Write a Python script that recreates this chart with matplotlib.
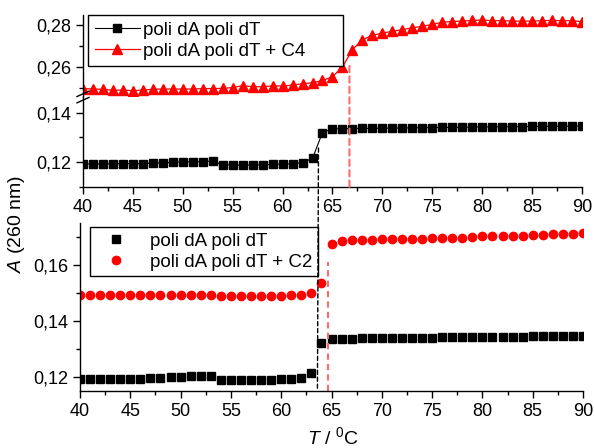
import numpy as np
import matplotlib
matplotlib.use("Agg")
import matplotlib.pyplot as plt
from matplotlib.ticker import MultipleLocator, FuncFormatter
from matplotlib.patches import ConnectionPatch

# ==========================================
# DATA
# ==========================================

temps = [40, 41, 42, 43, 44, 45, 46, 47, 48, 49,
         50, 51, 52, 53, 54, 55, 56, 57, 58, 59,
         60, 61, 62, 63, 64, 65, 66, 67, 68, 69,
         70, 71, 72, 73, 74, 75, 76, 77, 78, 79,
         80, 81, 82, 83, 84, 85, 86, 87, 88, 89, 90]

abs_dna = [0.1192, 0.1192, 0.1192, 0.1193, 0.1193, 0.1193, 0.1193, 0.1196, 0.1196, 0.1199,
           0.1200, 0.1201, 0.1201, 0.1204, 0.1188, 0.1188, 0.1187, 0.1188, 0.1188, 0.1190,
           0.1191, 0.1193, 0.1197, 0.1215, 0.1320, 0.1335, 0.1336, 0.1336, 0.1337, 0.1337,
           0.1338, 0.1338, 0.1339, 0.1339, 0.1340, 0.1340, 0.1341, 0.1341, 0.1342, 0.1342,
           0.1343, 0.1343, 0.1343, 0.1344, 0.1344, 0.1345, 0.1345, 0.1346, 0.1346, 0.1346, 0.1347]

abs_c4 = [0.2497, 0.2495, 0.2494, 0.2489, 0.2490, 0.2487, 0.2490, 0.2494, 0.2495, 0.2495,
          0.2495, 0.2495, 0.2497, 0.2497, 0.2498, 0.2502, 0.2511, 0.2506, 0.2506, 0.2510,
          0.2509, 0.2514, 0.2520, 0.2525, 0.2536, 0.2553, 0.2600, 0.2683, 0.2730, 0.2751,
          0.2762, 0.2770, 0.2778, 0.2787, 0.2794, 0.2803, 0.2813, 0.2817, 0.2819, 0.2822,
          0.2824, 0.2821, 0.2821, 0.2819, 0.2819, 0.2819, 0.2821, 0.2822, 0.2821, 0.2821, 0.2816]

abs_c2 = [0.1492, 0.1493, 0.1492, 0.1492, 0.1492, 0.1492, 0.1492, 0.1492, 0.1492, 0.1491,
          0.1491, 0.1491, 0.1491, 0.1491, 0.1490, 0.1488, 0.1488, 0.1488, 0.1489, 0.1490,
          0.1490, 0.1491, 0.1492, 0.1501, 0.1534, 0.1675, 0.1687, 0.1690, 0.1690, 0.1691,
          0.1692, 0.1692, 0.1693, 0.1693, 0.1694, 0.1695, 0.1696, 0.1697, 0.1698, 0.1700,
          0.1702, 0.1703, 0.1704, 0.1705, 0.1705, 0.1707, 0.1708, 0.1709, 0.1711, 0.1711, 0.1713]

label_dna = "poli dA poli dT"
label_c4 = "poli dA poli dT + C4"
label_c2 = "poli dA poli dT + C2"

# melting temperatures (dashed markers)
tm_dna = 63.6
tm_c4 = 66.7
tm_c2 = 64.7

# ==========================================
# STYLE
# ==========================================

plt.rcParams["font.family"] = ["Liberation Sans", "DejaVu Sans"]
plt.rcParams["mathtext.fontset"] = "custom"
plt.rcParams["mathtext.rm"] = "Liberation Sans"
plt.rcParams["mathtext.it"] = "Liberation Sans:italic"
plt.rcParams["font.size"] = 13

RED = "#ff0000"
PINK = "#ff6b6b"

comma_fmt = FuncFormatter(
    lambda v, p: f"{v:.2f}".replace(".", ",")
)


def style_axis(ax, xticks=True):
    ax.set_xlim(40, 90)
    ax.xaxis.set_major_locator(MultipleLocator(5))
    ax.xaxis.set_minor_locator(MultipleLocator(2.5))
    ax.yaxis.set_major_locator(MultipleLocator(0.02))
    ax.yaxis.set_minor_locator(MultipleLocator(0.01))
    ax.yaxis.set_major_formatter(comma_fmt)
    ax.tick_params(which="major", direction="out", length=5, width=1, labelsize=13)
    ax.tick_params(which="minor", direction="out", length=3, width=1)
    ax.spines["top"].set_visible(False)
    ax.spines["right"].set_visible(False)
    for s in ("left", "bottom"):
        ax.spines[s].set_linewidth(1)
    if not xticks:
        ax.spines["bottom"].set_visible(False)
        ax.tick_params(axis="x", which="both", bottom=False, labelbottom=False)


fig = plt.figure(figsize=(5.94, 4.48), dpi=100)

# ==========================================
# TOP PANEL (broken y axis)
# ==========================================

ax_hi = fig.add_axes([0.1397, 0.7835, 0.840, 0.183])
ax_lo = fig.add_axes([0.1397, 0.5826, 0.840, 0.2009])

for ax in (ax_hi, ax_lo):
    ax.plot(temps, abs_dna, "-s", color="black", lw=0.8, ms=5.2,
            label=label_dna)
    ax.plot(temps, abs_c4, "-^", color=RED, lw=0.9, ms=6.5,
            label=label_c4)

ax_hi.set_ylim(0.2457, 0.2848)
ax_lo.set_ylim(0.1098, 0.1465)

style_axis(ax_hi, xticks=False)
style_axis(ax_lo)

# break marks on the left spine
for dy in (-0.035, 0.035):
    ax_lo.plot([-0.012, 0.012], [1.0 + dy - 0.03, 1.0 + dy + 0.03],
               transform=ax_lo.transAxes, color="black", lw=1,
               clip_on=False)

ax_hi.legend(loc="upper left", bbox_to_anchor=(0.01, 0.0, 0.511, 1.0),
             mode="expand", borderaxespad=0, fancybox=False,
             edgecolor="black", framealpha=1, fontsize=13.5,
             handlelength=2.4, handletextpad=0.2, borderpad=0.35,
             labelspacing=0.2)

# ==========================================
# BOTTOM PANEL
# ==========================================

ax_b = fig.add_axes([0.1347, 0.1272, 0.8468, 0.375])

ax_b.plot(temps, abs_dna, "s", color="black", ms=5.2, label=label_dna)
ax_b.plot(temps, abs_c2, "o", color=RED, ms=6, label=label_c2)
ax_b.set_ylim(0.1149, 0.1750)
style_axis(ax_b)

ax_b.vlines(tm_c2, 0.1149, 0.1612, colors=PINK, linestyles=(0, (3, 2)),
            lw=1.5)

ax_b.legend(loc="upper left", bbox_to_anchor=(0.02, 0.975),
            borderaxespad=0, fancybox=False, edgecolor="black",
            framealpha=1, fontsize=13.5, handlelength=2.2,
            handletextpad=0.7, borderpad=0.3, labelspacing=0.2)

# ==========================================
# DASHED GUIDES
# ==========================================

con_black = ConnectionPatch(
    xyA=(tm_dna, 0.1257), coordsA=ax_lo.transData,
    xyB=(tm_dna, 0.1152), coordsB=ax_b.transData,
    color="black", lw=1, linestyle=(0, (3, 2))
)
fig.add_artist(con_black)

con_red = ConnectionPatch(
    xyA=(tm_c4, 0.2605), coordsA=ax_hi.transData,
    xyB=(tm_c4, 0.1098), coordsB=ax_lo.transData,
    color=PINK, lw=1.5, linestyle=(0, (3, 2))
)
fig.add_artist(con_red)

# ==========================================
# LABELS
# ==========================================

fig.text(0.028, 0.50, r"$A$ (260 nm)", rotation=90, fontsize=14,
         ha="center", va="center")
fig.text(0.56, 0.025, r"$T$ / $^{0}$C", fontsize=14,
         ha="center", va="center")

plt.savefig("out.png", dpi=100)
